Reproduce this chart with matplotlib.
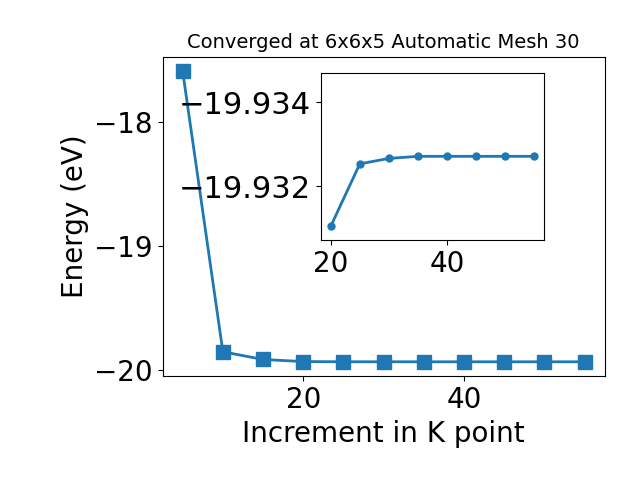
import matplotlib
matplotlib.use("Agg")
import matplotlib.pyplot as plt

kpoints = [5, 10, 15, 20, 25, 30, 35, 40, 45, 50, 55]
energy = [-17.589, -19.852, -19.914, -19.93104, -19.93253, -19.93266, -19.93271,
          -19.93271, -19.93271, -19.93271, -19.93271]
inset_k = kpoints[3:]
inset_e = energy[3:]

fig = plt.figure(figsize=(6.4, 4.8), dpi=100)
ax = fig.add_axes([0.254, 0.216, 0.691, 0.666])
ax.plot(kpoints, energy, marker='s', markersize=10, linewidth=2, color='#1f77b4')
ax.set_xlabel('Increment in K point', fontsize=20)
ax.set_ylabel('Energy (eV)', fontsize=20)
ax.tick_params(labelsize=20)
ax.set_title('Converged at 6x6x5 Automatic Mesh 30', fontsize=14)

ins = fig.add_axes([0.501, 0.5, 0.349, 0.3486])
ins.plot(inset_k, inset_e, marker='o', markersize=5, linewidth=2, color='#1f77b4')
ins.set_ylim(-19.93071, -19.93471)
ins.set_yticks([-19.934, -19.932])
ins.set_xticks([20, 40])
ins.ticklabel_format(axis='y', useOffset=False, style='plain')
ins.tick_params(axis='x', labelsize=20)
ins.tick_params(axis='y', labelsize=22)

fig.savefig('out.png', dpi=100)
